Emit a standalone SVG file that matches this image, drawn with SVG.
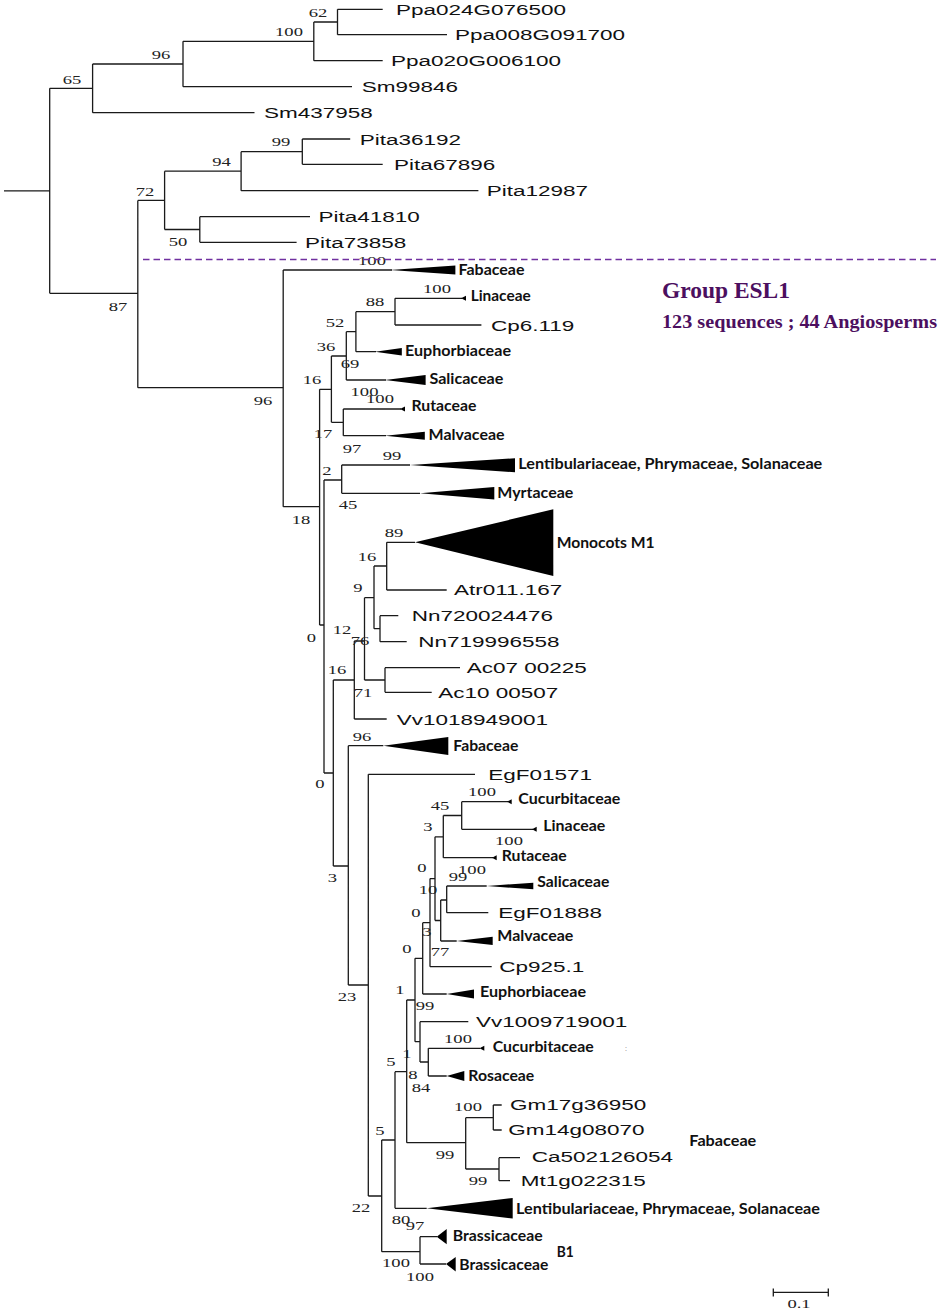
<svg xmlns="http://www.w3.org/2000/svg" width="944" height="1312" viewBox="0 0 944 1312">
<style>
.br{fill:none;stroke:#1a1a1a;stroke-width:1.3}
.leaf{font-family:"Liberation Sans",Arial,sans-serif;font-size:15px;fill:#111}
.fam{font-family:Lato,"Liberation Sans",sans-serif;font-weight:bold;font-size:15px;fill:#111}
.bs{font-family:"Liberation Serif","Times New Roman",serif;font-size:12px;fill:#222;text-anchor:middle}
.wedge{fill:#000}
.grp{font-family:"Liberation Serif","Times New Roman",serif;font-weight:bold;fill:#4c0f5f}
.dash{stroke:#7030a0;stroke-width:1.5;stroke-dasharray:6.5 4;fill:none}
</style>
<rect width="944" height="1312" fill="#fff"/>
<g id="connectors">
<path class="br" d="M4 190.8H49.7M49.7 88.3V293.3M49.7 88.3H92.6M92.6 64V112.7M92.6 64H183M183 41.3V86.7M183 41.3H313.8M313.8 22V60.7M313.8 22H337.5M337.5 9.3V34.7M337.5 9.3H382.7M337.5 34.7H447M313.8 60.7H382.7M183 86.7H352M92.6 112.7H254.5M49.7 293.3H137.8M137.8 200.4V387.7M137.8 200.4H164.6M164.6 171.2V229.5M164.6 171.2H241.1M241.1 151.7V190.7M241.1 151.7H302.3M302.3 139V164.3M302.3 139H350.2M302.3 164.3H382.7M241.1 190.7H478.4M164.6 229.5H199.8M199.8 216.7V242.3M199.8 216.7H310M199.8 242.3H296.6M137.8 387.7H283.2"/>
<path class="br" d="M283.2 270V506.7M283.2 270H392M283.2 506.7H319.6M319.6 389.3V625M319.6 389.3H331.4M331.4 356V422.3M331.4 356H346.3M346.3 331.7V380M346.3 331.7H355.9M355.9 311.7V351.7M355.9 311.7H395M395 298.3V325M395 298.3H462M395 325H481.4M355.9 351.7H376M346.3 380H386M331.4 422.3H343.3M343.3 409V435.7M343.3 409H401M343.3 435.7H386M319.6 625H324M324 480V773M324 480H341.7M341.7 465V493.3M341.7 465H410M341.7 493.3H420M324 773H333.3M333.3 680V866M333.3 680H354.3M354.3 641V719M354.3 719H386.7M354.3 641H364.5M364.5 597.7V680M364.5 597.7H374M374 566V628.7M374 566H386.7M386.7 542.3V590M386.7 542.3H415M386.7 590H446.7M374 628.7H380M380 615.7V641.7M380 615.7H398.3M380 641.7H406.7M364.5 680H385M385 667.7V692.3M385 667.7H460M385 692.3H431.7"/>
<path class="br" d="M333.3 866H348.3M348.3 745.7V985M348.3 745.7H383.3M348.3 985H368.3M368.3 774.3V1196M368.3 774.3H475M368.3 1196H381.7M381.7 1140V1251.7M381.7 1140H395M395 1071.7V1208.3M395 1208.3H426.7M395 1071.7H406.7M406.7 1000V1142.7M406.7 1142.7H465.7M465.7 1117.7V1169M465.7 1117.7H493.3M493.3 1105V1130M493.3 1105H501.7M493.3 1130H501.7M465.7 1169H499M499 1157.7V1180.7M499 1157.7H520M499 1180.7H510M406.7 1000H415M415 958.3V1041.7M415 1041.7H420M420 1021.7V1062M420 1021.7H468.3M420 1062H428.3M428.3 1048.3V1076M428.3 1048.3H480M428.3 1076H446.7M415 958.3H422.7M422.7 922.7V994M422.7 994H446.7M422.7 922.7H430M430 878.6V966.7M430 966.7H491.7M430 878.6H435M435 836.8V920.5M435 836.8H443.3M443.3 815.5V857.7M443.3 815.5H461.7M461.7 801.7V829.3M461.7 801.7H508M461.7 829.3H533M443.3 857.7H493M435 920.5H440.7M440.7 900V941M440.7 900H446.7M446.7 886V912.7M446.7 886H486.7M446.7 912.7H488.3M440.7 941H456.7M381.7 1251.7H420M420 1236.7V1264M420 1236.7H437M420 1264H446"/>
</g>
<g id="outgroup-leaves">
<text class="leaf" transform="translate(396,14.8) scale(1.5,1)">Ppa024G076500</text>
<text class="leaf" transform="translate(455,40.2) scale(1.5,1)">Ppa008G091700</text>
<text class="leaf" transform="translate(391,66.2) scale(1.5,1)">Ppa020G006100</text>
<text class="leaf" transform="translate(361.7,92.2) scale(1.5,1)">Sm99846</text>
<text class="leaf" transform="translate(264,118.2) scale(1.5,1)">Sm437958</text>
<text class="leaf" transform="translate(359.7,144.5) scale(1.5,1)">Pita36192</text>
<text class="leaf" transform="translate(394,169.8) scale(1.5,1)">Pita67896</text>
<text class="leaf" transform="translate(486.8,196.2) scale(1.5,1)">Pita12987</text>
<text class="leaf" transform="translate(318.4,222.2) scale(1.5,1)">Pita41810</text>
<text class="leaf" transform="translate(305,247.8) scale(1.5,1)">Pita73858</text>
</g>
<g id="esl1-leaves">
<text class="leaf" transform="translate(491,330.5) scale(1.5,1)">Cp6.119</text>
<text class="leaf" transform="translate(454,595) scale(1.5,1)">Atr011.167</text>
<text class="leaf" transform="translate(411.7,621.2) scale(1.5,1)">Nn720024476</text>
<text class="leaf" transform="translate(418.3,647.2) scale(1.5,1)">Nn719996558</text>
<text class="leaf" transform="translate(466.7,673.2) scale(1.5,1)">Ac07 00225</text>
<text class="leaf" transform="translate(438.3,697.8) scale(1.5,1)">Ac10 00507</text>
<text class="leaf" transform="translate(396.7,724.5) scale(1.5,1)">Vv1018949001</text>
<text class="leaf" transform="translate(488.3,779.8) scale(1.5,1)">EgF01571</text>
<text class="leaf" transform="translate(498.3,917.7) scale(1.5,1)">EgF01888</text>
<text class="leaf" transform="translate(499.3,972.2) scale(1.5,1)">Cp925.1</text>
<text class="leaf" transform="translate(476,1027.2) scale(1.5,1)">Vv1009719001</text>
<text class="leaf" transform="translate(510,1109.5) scale(1.5,1)">Gm17g36950</text>
<text class="leaf" transform="translate(508.3,1135) scale(1.5,1)">Gm14g08070</text>
<text class="leaf" transform="translate(531.7,1162) scale(1.5,1)">Ca502126054</text>
<text class="leaf" transform="translate(520.7,1186.2) scale(1.5,1)">Mt1g022315</text>
</g>
<g id="collapsed-clades">
<polygon class="wedge" points="390,270 455.4,265.5 455.4,274.5"/>
<polygon class="wedge" points="461,298.3 466,295.8 466,300.8"/>
<polygon class="wedge" points="375,351.7 401.8,348 401.8,355.4"/>
<polygon class="wedge" points="385,380 425.6,375 425.6,385"/>
<polygon class="wedge" points="400,409 405,406.5 405,411.5"/>
<polygon class="wedge" points="385,435.7 424.8,431.7 424.8,439.7"/>
<polygon class="wedge" points="410,465 515,458.3 515,472.3"/>
<polygon class="wedge" points="420,493.3 494.3,487 494.3,499.5"/>
<polygon class="wedge" points="415,542.3 553.3,509.3 553.3,576"/>
<polygon class="wedge" points="383.3,745.7 448.3,737 448.3,755"/>
<polygon class="wedge" points="507,801.7 511.7,799.2 511.7,804.2"/>
<polygon class="wedge" points="532,829.3 536.7,826.8 536.7,831.8"/>
<polygon class="wedge" points="492,857.7 496.7,855.2 496.7,860.2"/>
<polygon class="wedge" points="486.7,886 533.3,882.7 533.3,889.3"/>
<polygon class="wedge" points="456.7,941 492.7,936.7 492.7,945"/>
<polygon class="wedge" points="446.7,994 474,989.5 474,998.5"/>
<polygon class="wedge" points="479.5,1048.3 484.3,1045.8 484.3,1050.8"/>
<polygon class="wedge" points="446.7,1076 464.3,1071 464.3,1081"/>
<polygon class="wedge" points="426.7,1208.3 512.7,1198 512.7,1218.5"/>
<polygon class="wedge" points="436.7,1236.7 446.7,1229 446.7,1244.3"/>
<polygon class="wedge" points="446,1264 455.7,1257 455.7,1271.5"/>
</g>
<g id="clade-labels">
<text class="fam" x="458.5" y="274.5" textLength="66" lengthAdjust="spacingAndGlyphs">Fabaceae</text>
<text class="fam" x="470.7" y="301.2" textLength="60" lengthAdjust="spacingAndGlyphs">Linaceae</text>
<text class="fam" x="405" y="355.5" textLength="106" lengthAdjust="spacingAndGlyphs">Euphorbiaceae</text>
<text class="fam" x="429.4" y="383.8" textLength="74" lengthAdjust="spacingAndGlyphs">Salicaceae</text>
<text class="fam" x="411.4" y="411.2" textLength="65" lengthAdjust="spacingAndGlyphs">Rutaceae</text>
<text class="fam" x="428.6" y="439.8" textLength="76" lengthAdjust="spacingAndGlyphs">Malvaceae</text>
<text class="fam" x="518.3" y="468.8" textLength="304" lengthAdjust="spacingAndGlyphs">Lentibulariaceae, Phrymaceae, Solanaceae</text>
<text class="fam" x="497.3" y="498.2" textLength="76" lengthAdjust="spacingAndGlyphs">Myrtaceae</text>
<text class="fam" x="556.7" y="548.2" textLength="98" lengthAdjust="spacingAndGlyphs">Monocots M1</text>
<text class="fam" x="453.3" y="751.2" textLength="65" lengthAdjust="spacingAndGlyphs">Fabaceae</text>
<text class="fam" x="518.3" y="803.8" textLength="102" lengthAdjust="spacingAndGlyphs">Cucurbitaceae</text>
<text class="fam" x="543.3" y="830.5" textLength="62" lengthAdjust="spacingAndGlyphs">Linaceae</text>
<text class="fam" x="501.7" y="860.5" textLength="65" lengthAdjust="spacingAndGlyphs">Rutaceae</text>
<text class="fam" x="537.3" y="887.2" textLength="72" lengthAdjust="spacingAndGlyphs">Salicaceae</text>
<text class="fam" x="497.3" y="941.2" textLength="76" lengthAdjust="spacingAndGlyphs">Malvaceae</text>
<text class="fam" x="480" y="997.2" textLength="106" lengthAdjust="spacingAndGlyphs">Euphorbiaceae</text>
<text class="fam" x="492.7" y="1052.2" textLength="101" lengthAdjust="spacingAndGlyphs">Cucurbitaceae</text>
<text class="fam" x="468.3" y="1080.5" textLength="66" lengthAdjust="spacingAndGlyphs">Rosaceae</text>
<text class="fam" x="689.3" y="1145.5" textLength="67" lengthAdjust="spacingAndGlyphs">Fabaceae</text>
<text class="fam" x="516" y="1213.8" textLength="304" lengthAdjust="spacingAndGlyphs">Lentibulariaceae, Phrymaceae, Solanaceae</text>
<text class="fam" x="452.7" y="1240.5" textLength="90" lengthAdjust="spacingAndGlyphs">Brassicaceae</text>
<text class="fam" x="459.3" y="1269.5" textLength="89" lengthAdjust="spacingAndGlyphs">Brassicaceae</text>
<text class="fam" x="556.7" y="1256.5" textLength="17" lengthAdjust="spacingAndGlyphs">B1</text>
<text x="625" y="1051" font-family="Liberation Sans,sans-serif" font-size="7" fill="#666">:</text>
</g>
<g id="bootstrap">
<text class="bs" transform="translate(318,17) scale(1.55,1)">62</text>
<text class="bs" transform="translate(289,36) scale(1.55,1)">100</text>
<text class="bs" transform="translate(161,59) scale(1.55,1)">96</text>
<text class="bs" transform="translate(72,84) scale(1.55,1)">65</text>
<text class="bs" transform="translate(281,145.7) scale(1.55,1)">99</text>
<text class="bs" transform="translate(221.6,166) scale(1.55,1)">94</text>
<text class="bs" transform="translate(145,195.7) scale(1.55,1)">72</text>
<text class="bs" transform="translate(178,246) scale(1.55,1)">50</text>
<text class="bs" transform="translate(118,311) scale(1.55,1)">87</text>
<text class="bs" transform="translate(263,405) scale(1.55,1)">96</text>
<text class="bs" transform="translate(372,265) scale(1.55,1)">100</text>
<text class="bs" transform="translate(437,293.3) scale(1.55,1)">100</text>
<text class="bs" transform="translate(375,306.3) scale(1.55,1)">88</text>
<text class="bs" transform="translate(335,326.7) scale(1.55,1)">52</text>
<text class="bs" transform="translate(326,351.3) scale(1.55,1)">36</text>
<text class="bs" transform="translate(350,368.3) scale(1.55,1)">69</text>
<text class="bs" transform="translate(312,384) scale(1.55,1)">16</text>
<text class="bs" transform="translate(364.5,395.7) scale(1.55,1)">100</text>
<text class="bs" transform="translate(380,403) scale(1.55,1)">100</text>
<text class="bs" transform="translate(323,438.3) scale(1.55,1)">17</text>
<text class="bs" transform="translate(352,453) scale(1.55,1)">97</text>
<text class="bs" transform="translate(392,459.7) scale(1.55,1)">99</text>
<text class="bs" transform="translate(327,474.7) scale(1.55,1)">2</text>
<text class="bs" transform="translate(348,509) scale(1.55,1)">45</text>
<text class="bs" transform="translate(301,524) scale(1.55,1)">18</text>
<text class="bs" transform="translate(394,536.7) scale(1.55,1)">89</text>
<text class="bs" transform="translate(367,560.7) scale(1.55,1)">16</text>
<text class="bs" transform="translate(358,592.3) scale(1.55,1)">9</text>
<text class="bs" transform="translate(342,634) scale(1.55,1)">12</text>
<text class="bs" transform="translate(360,645) scale(1.55,1)">76</text>
<text class="bs" transform="translate(311.5,642) scale(1.55,1)">0</text>
<text class="bs" transform="translate(337,674) scale(1.55,1)">16</text>
<text class="bs" transform="translate(363,697.3) scale(1.55,1)">71</text>
<text class="bs" transform="translate(362,740.7) scale(1.55,1)">96</text>
<text class="bs" transform="translate(320,788) scale(1.55,1)">0</text>
<text class="bs" transform="translate(332.5,882) scale(1.55,1)">3</text>
<text class="bs" transform="translate(347,1000.7) scale(1.55,1)">23</text>
<text class="bs" transform="translate(440,810) scale(1.55,1)">45</text>
<text class="bs" transform="translate(482,796.3) scale(1.55,1)">100</text>
<text class="bs" transform="translate(428,831.3) scale(1.55,1)">3</text>
<text class="bs" transform="translate(509,845) scale(1.55,1)">100</text>
<text class="bs" transform="translate(422,872.3) scale(1.55,1)">0</text>
<text class="bs" transform="translate(472,874) scale(1.55,1)">100</text>
<text class="bs" transform="translate(458,880.7) scale(1.55,1)">99</text>
<text class="bs" transform="translate(428,894) scale(1.55,1)">10</text>
<text class="bs" transform="translate(416,917.3) scale(1.55,1)">0</text>
<text class="bs" transform="translate(427,935.7) scale(1.55,1)">3</text>
<text class="bs" transform="translate(407,953.3) scale(1.55,1)">0</text>
<text class="bs" transform="translate(440,955.7) scale(1.55,1)">77</text>
<text class="bs" transform="translate(400,994) scale(1.55,1)">1</text>
<text class="bs" transform="translate(425,1010) scale(1.55,1)">99</text>
<text class="bs" transform="translate(458,1043.3) scale(1.55,1)">100</text>
<text class="bs" transform="translate(407,1058) scale(1.55,1)">1</text>
<text class="bs" transform="translate(391,1066) scale(1.55,1)">5</text>
<text class="bs" transform="translate(413,1079) scale(1.55,1)">8</text>
<text class="bs" transform="translate(421,1092.3) scale(1.55,1)">84</text>
<text class="bs" transform="translate(468,1110.7) scale(1.55,1)">100</text>
<text class="bs" transform="translate(380,1134.7) scale(1.55,1)">5</text>
<text class="bs" transform="translate(445,1159) scale(1.55,1)">99</text>
<text class="bs" transform="translate(478,1184.7) scale(1.55,1)">99</text>
<text class="bs" transform="translate(361,1211.7) scale(1.55,1)">22</text>
<text class="bs" transform="translate(401,1224) scale(1.55,1)">80</text>
<text class="bs" transform="translate(415,1230) scale(1.55,1)">97</text>
<text class="bs" transform="translate(396,1266.7) scale(1.55,1)">100</text>
<text class="bs" transform="translate(420,1281.3) scale(1.55,1)">100</text>
</g>
<g id="group-esl1">
<path class="dash" d="M143 259.5H936"/>
<text class="grp" x="662" y="297.7" font-size="24" textLength="128" lengthAdjust="spacingAndGlyphs">Group ESL1</text>
<text class="grp" x="662" y="327.7" font-size="19" textLength="275" lengthAdjust="spacingAndGlyphs">123 sequences ; 44 Angiosperms</text>
</g>
<g id="scale-bar">
<path class="br" d="M773.3 1292.3H828.3M773.3 1288.5V1296.5M828.3 1288.5V1296.5"/>
<text class="bs" transform="translate(799,1308) scale(1.55,1)">0.1</text>
</g>
</svg>
